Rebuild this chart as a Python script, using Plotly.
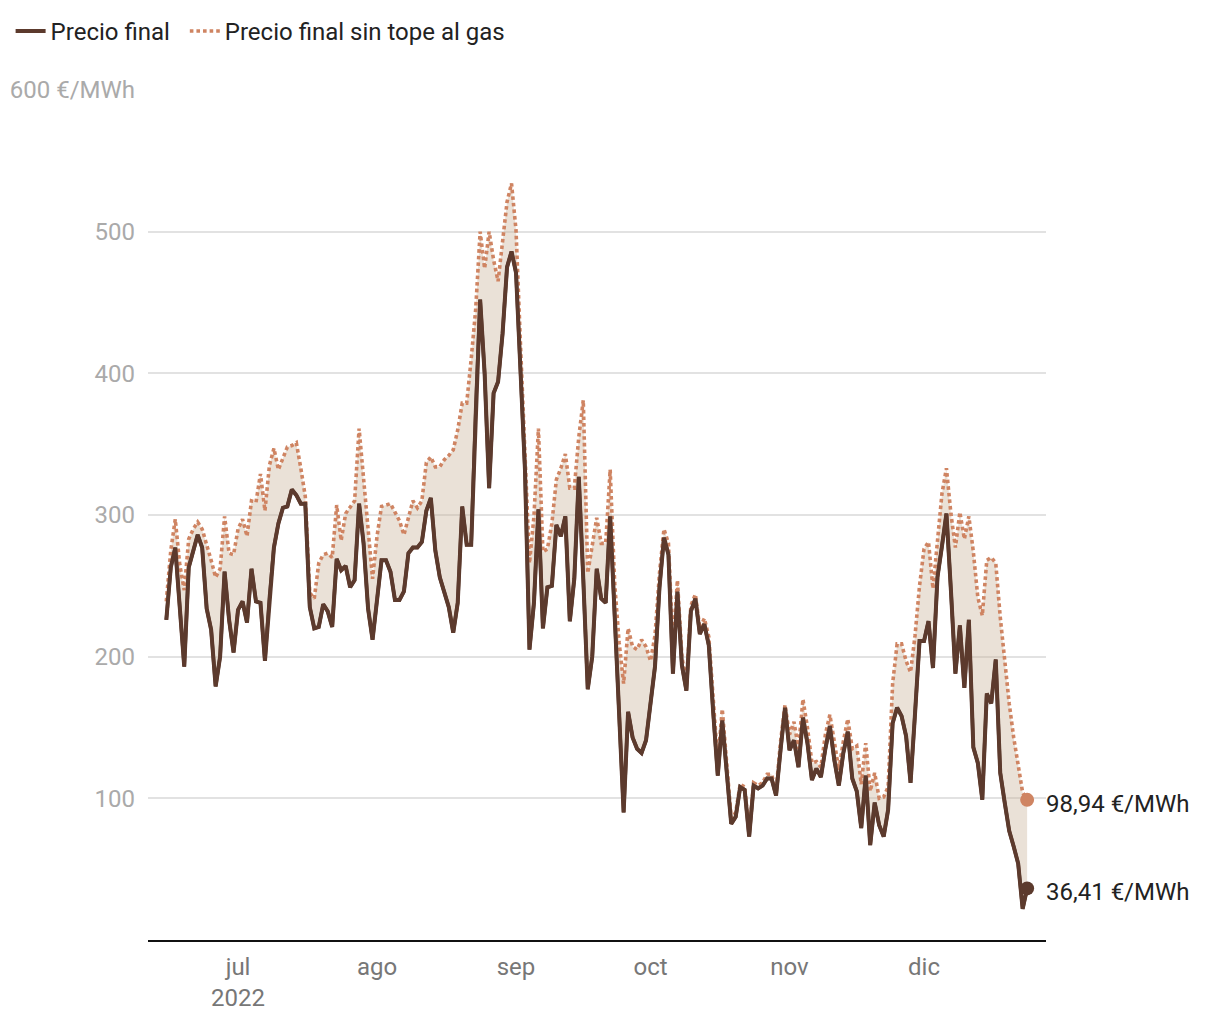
import pandas as pd
import plotly.graph_objects as go

start_date = "2022-06-15"

precio_final = [
    226, 263, 277, 235, 193, 263, 275, 286, 277, 234, 219, 179, 200, 260, 226, 203,
    233, 239, 224, 262, 239, 238, 197, 242, 277, 294, 305, 306, 318, 314, 308, 308,
    235, 220, 221, 237, 232, 221, 269, 261, 264, 249, 254, 308, 280, 234, 212, 240,
    268, 268, 260, 240, 240, 246, 273, 277, 277, 281, 303, 312, 275, 256, 246, 235,
    217, 238, 306, 279, 279, 375, 452, 400, 319, 386, 394, 428, 475, 486, 471, 402,
    332, 205, 238, 304, 220, 249, 250, 293, 285, 299, 225, 255, 327, 255, 177, 200,
    262, 241, 238, 299, 229, 160, 90, 161, 143, 135, 132, 141, 169, 193, 249, 284,
    272, 188, 246, 194, 176, 232, 241, 216, 223, 208, 160, 116, 155, 120, 82, 87,
    108, 106, 73, 109, 107, 109, 114, 114, 102, 134, 164, 134, 141, 122, 157, 139,
    113, 121, 115, 135, 151, 127, 109, 132, 147, 114, 105, 79, 116, 67, 97, 81,
    73, 92, 153, 164, 158, 144, 111, 160, 211, 211, 225, 192, 256, 278, 301, 247,
    188, 222, 178, 226, 136, 125, 99, 174, 167, 198, 118, 97, 77, 66, 54, 22, 36.41,
]

precio_sin_tope = [
    239, 275, 297, 265, 247, 283, 290, 295, 290, 280, 268, 256, 262, 299, 273, 272,
    290, 297, 285, 310, 309, 329, 303, 335, 347, 332, 340, 348, 349, 351, 333, 313,
    245, 241, 266, 272, 273, 270, 307, 282, 301, 305, 310, 361, 325, 290, 255, 285,
    306, 307, 308, 302, 296, 286, 299, 310, 305, 310, 337, 341, 334, 334, 339, 342,
    346, 360, 379, 379, 410, 445, 500, 474, 500, 480, 465, 496, 521, 534, 501, 420,
    340, 266, 299, 361, 274, 276, 294, 325, 333, 343, 319, 319, 355, 381, 259, 280,
    298, 280, 280, 332, 252, 210, 181, 220, 207, 205, 212, 207, 197, 215, 259, 290,
    280, 207, 254, 200, 180, 236, 244, 220, 227, 214, 165, 125, 163, 127, 86, 90,
    110, 108, 76, 111, 109, 111, 117, 117, 105, 140, 166, 145, 154, 135, 170, 150,
    125, 126, 122, 145, 159, 140, 120, 140, 156, 135, 137, 110, 139, 105, 118, 100,
    101, 108, 181, 209, 209, 197, 189, 215, 250, 276, 281, 248, 279, 315, 333, 301,
    277, 302, 283, 299, 274, 242, 229, 268, 270, 266, 228, 197, 167, 143, 122, 104, 98.94,
]

month_ticks = ["2022-07-01", "2022-08-01", "2022-09-01", "2022-10-01", "2022-11-01", "2022-12-01"]
month_labels = ["jul<br>2022", "ago", "sep", "oct", "nov", "dic"]
y_ticks = [100, 200, 300, 400, 500, 600]
y_labels = ["100", "200", "300", "400", "500", "600 €/MWh"]
series_names = ["Precio final", "Precio final sin tope al gas"]
end_labels = ["36,41 €/MWh", "98,94 €/MWh"]

dates = pd.date_range(start_date, periods=len(precio_final), freq="D")

DARK = "#5c3a2d"
ORANGE = "#cf8462"
FILL = "rgba(200,175,150,0.38)"
FONT = "Roboto"
DOT_DASH = "3.6px,3px"

fig = go.Figure()

# base for the fill (dark line, no legend)
fig.add_trace(go.Scatter(
    x=dates, y=precio_final, mode="lines",
    line=dict(color=DARK, width=3.5), showlegend=False, hoverinfo="skip",
))
# upper dotted line with fill down to dark line
fig.add_trace(go.Scatter(
    x=dates, y=precio_sin_tope, mode="lines", name=series_names[1],
    line=dict(color=ORANGE, width=3.6, dash=DOT_DASH),
    fill="tonexty", fillcolor=FILL, showlegend=False,
))
# dark line on top
fig.add_trace(go.Scatter(
    x=dates, y=precio_final, mode="lines", name=series_names[0],
    line=dict(color=DARK, width=4), legend="legend",
))
# legend entry for the dotted series (no fill swatch)
fig.add_trace(go.Scatter(
    x=[None], y=[None], mode="lines", name=series_names[1],
    line=dict(color=ORANGE, width=3.6, dash=DOT_DASH), legend="legend2",
))
# end markers
fig.add_trace(go.Scatter(
    x=[dates[-1]], y=[precio_sin_tope[-1]], mode="markers",
    marker=dict(color=ORANGE, size=14), showlegend=False, hoverinfo="skip",
))
fig.add_trace(go.Scatter(
    x=[dates[-1]], y=[precio_final[-1]], mode="markers",
    marker=dict(color=DARK, size=14), showlegend=False, hoverinfo="skip",
))

for val, lab in [(precio_sin_tope[-1], end_labels[1]), (precio_final[-1], end_labels[0])]:
    fig.add_annotation(
        x=dates[-1], y=val, text=lab, showarrow=False,
        xanchor="left", yanchor="middle", xshift=17, yshift=-4,
        font=dict(family=FONT, size=24, color="#222222"),
    )

legend_common = dict(
    orientation="h", xanchor="left", y=1.0955, yanchor="top",
    font=dict(family=FONT, size=24, color="#222222"),
    bgcolor="rgba(0,0,0,0)", itemwidth=30,
)

fig.update_layout(
    width=1220, height=1020,
    margin=dict(l=148, r=174, t=90, b=80, autoexpand=False),
    paper_bgcolor="white", plot_bgcolor="white",
    font=dict(family=FONT),
    showlegend=True,
    legend=dict(x=-0.153, **legend_common),
    legend2=dict(x=0.041, **legend_common),
    xaxis=dict(
        range=["2022-06-10 22:00", "2022-12-28 05:00"],
        tickmode="array", tickvals=month_ticks, ticktext=month_labels,
        showgrid=False, showline=True, linecolor="#111111", linewidth=2,
        ticks="", ticklabelstandoff=4,
        tickfont=dict(family=FONT, size=24, color="#777777"),
        zeroline=False,
    ),
    yaxis=dict(
        range=[0, 600], tickmode="array", tickvals=y_ticks, ticktext=y_labels,
        showgrid=True, gridcolor="#e2e2e2", gridwidth=1.5,
        zeroline=False, showline=False, ticks="",
        ticklabelstandoff=12,
        tickfont=dict(family=FONT, size=24, color="#aaaaaa"),
    ),
)

fig.write_html("out.html", config={"displayModeBar": False},
               post_script="document.body.style.margin='0';")
